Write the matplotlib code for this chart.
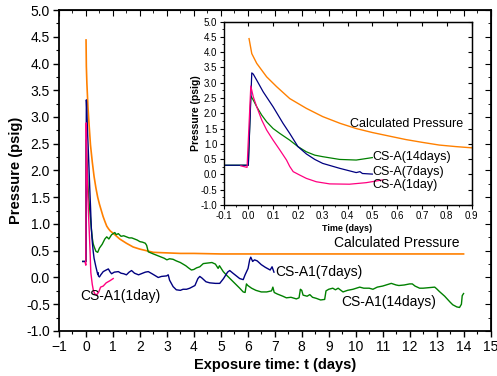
import numpy as np
import matplotlib
matplotlib.use("Agg")
import matplotlib.pyplot as plt
from matplotlib.ticker import MultipleLocator

plt.rcParams['font.family'] = ['Liberation Sans', 'DejaVu Sans']

# --- data (t in days, pressure in psig) ---
t_calc = [0.003, 0.014, 0.034, 0.074, 0.114, 0.167, 0.234, 0.3, 0.37, 0.435, 0.5, 0.57,
          0.635, 0.7, 0.77, 0.836, 0.9, 1.0, 1.25, 1.5, 1.75, 2.0, 2.5, 3.0, 3.5, 4.0,
          5.0, 6.0, 8.0, 10.0, 12.0, 14.0]
p_calc = [4.44, 3.95, 3.63, 3.19, 2.87, 2.48, 2.16, 1.89, 1.67, 1.50, 1.37, 1.25,
          1.14, 1.05, 0.96, 0.91, 0.87, 0.83, 0.72, 0.64, 0.57, 0.53, 0.47, 0.46, 0.45, 0.45,
          0.44, 0.44, 0.44, 0.44, 0.44, 0.44]

t_14d = [-0.12, -0.01, 0.0, 0.01, 0.02, 0.034, 0.054, 0.074, 0.1, 0.127, 0.167, 0.2, 0.234,
         0.268, 0.3, 0.368, 0.435, 0.46, 0.5, 0.6, 0.7, 0.77, 0.85, 0.95, 1.07, 1.12, 1.2,
         1.3, 1.4, 1.5, 1.6, 1.7, 1.8, 1.9, 2.0, 2.1, 2.2, 2.25, 2.31, 2.4, 2.5, 2.6, 2.74,
         2.9, 3.0, 3.1, 3.23, 3.35, 3.5, 3.6, 3.7, 3.8, 3.91, 4.0, 4.1, 4.22, 4.35, 4.5,
         4.67, 4.8, 4.9, 4.95, 5.0, 5.09, 5.2, 5.3, 5.46, 5.6, 5.7, 5.83, 5.9, 5.95, 6.0,
         6.14, 6.3, 6.5, 6.7, 6.88, 6.93, 6.98, 7.1, 7.3, 7.43, 7.6, 7.8, 7.9, 7.95, 8.0,
         8.05, 8.2, 8.3, 8.4, 8.54, 8.7, 8.85, 8.9, 9.0, 9.15, 9.25, 9.35, 9.53, 9.7, 9.9,
         10.15, 10.3, 10.5, 10.64, 10.8, 11.0, 11.2, 11.32, 11.5, 11.6, 11.8, 12.0, 12.1,
         12.2, 12.37, 12.5, 12.7, 12.93, 13.0, 13.1, 13.3, 13.5, 13.6, 13.75, 13.85, 13.92,
         13.95, 14.0]
p_14d = [0.30, 0.30, 0.30, 2.57, 2.43, 2.21, 1.94, 1.72, 1.50, 1.34, 1.12, 0.91, 0.74,
         0.63, 0.58, 0.49, 0.47, 0.50, 0.55, 0.62, 0.72, 0.76, 0.72, 0.80, 0.84, 0.80, 0.82,
         0.77, 0.78, 0.76, 0.74, 0.74, 0.72, 0.70, 0.67, 0.66, 0.64, 0.60, 0.48, 0.46, 0.44,
         0.42, 0.39, 0.36, 0.33, 0.35, 0.34, 0.31, 0.28, 0.25, 0.22, 0.18, 0.14, 0.15, 0.18,
         0.20, 0.26, 0.27, 0.28, 0.25, 0.17, 0.22, 0.18, 0.11, 0.05, 0.00, -0.08, -0.15,
         -0.20, -0.27, -0.28, -0.12, -0.15, -0.20, -0.24, -0.27, -0.27, -0.25, -0.18, -0.28,
         -0.31, -0.35, -0.38, -0.37, -0.40, -0.38, -0.22, -0.24, -0.33, -0.35, -0.32, -0.37,
         -0.39, -0.42, -0.41, -0.25, -0.22, -0.20, -0.23, -0.20, -0.27, -0.24, -0.22, -0.18,
         -0.20, -0.20, -0.22, -0.18, -0.16, -0.13, -0.11, -0.14, -0.15, -0.14, -0.12, -0.12,
         -0.16, -0.20, -0.20, -0.19, -0.18, -0.21, -0.26, -0.35, -0.46, -0.51, -0.55, -0.56,
         -0.50, -0.34, -0.30]

t_7d = [-0.12, 0.0, 0.014, 0.02, 0.034, 0.06, 0.1, 0.14, 0.167, 0.2, 0.234, 0.268, 0.3,
        0.368, 0.435, 0.45, 0.46, 0.5, 0.55, 0.64, 0.75, 0.83, 0.9, 0.95, 1.05, 1.2, 1.3,
        1.4, 1.5, 1.6, 1.69, 1.8, 1.95, 2.1, 2.2, 2.31, 2.45, 2.55, 2.68, 2.8, 2.99, 3.05,
        3.1, 3.23, 3.35, 3.5, 3.6, 3.73, 3.85, 4.04, 4.15, 4.22, 4.3, 4.45, 4.59, 4.8, 4.96,
        5.1, 5.25, 5.33, 5.45, 5.6, 5.7, 5.83, 5.9, 6.01, 6.07, 6.11, 6.18, 6.25, 6.35, 6.5,
        6.65, 6.83, 6.9, 6.97]
p_7d = [0.30, 0.30, 3.32, 3.28, 3.08, 2.70, 2.21, 1.67, 1.34, 0.91, 0.67, 0.49, 0.36,
        0.20, 0.06, 0.09, 0.03, 0.01, 0.05, 0.11, 0.14, 0.16, 0.10, 0.07, 0.10, 0.11, 0.08,
        0.07, 0.05, 0.10, 0.13, 0.08, 0.05, 0.08, 0.10, 0.11, 0.07, 0.04, 0.00, 0.02, 0.03,
        0.05, -0.05, -0.17, -0.23, -0.24, -0.22, -0.22, -0.20, -0.15, -0.02, 0.02, -0.01,
        -0.08, -0.10, -0.11, -0.11, -0.02, 0.10, 0.13, 0.08, 0.02, -0.02, -0.04, 0.05, 0.17,
        0.33, 0.38, 0.30, 0.33, 0.31, 0.24, 0.19, 0.14, 0.20, 0.10]

t_1d = [-0.03, -0.005, 0.01, 0.02, 0.034, 0.054, 0.074, 0.1, 0.127, 0.154, 0.167, 0.181,
        0.207, 0.234, 0.274, 0.328, 0.408, 0.475, 0.542, 0.64, 0.75, 0.89, 1.01]
p_1d = [0.28, 0.23, 2.89, 2.54, 2.21, 1.78, 1.45, 1.12, 0.80, 0.47, 0.26, 0.09,
        -0.02, -0.13, -0.24, -0.31, -0.32, -0.27, -0.18, -0.16, -0.10, -0.06, -0.02]

# end of each record shown in the inset
inset_end = {'14d': 0.5, '7d': 0.5, '1d': 0.542}

c_calc = '#FF8000'
c_14d = '#008000'
c_7d = '#000080'
c_1d = '#FF0080'

fig = plt.figure(figsize=(4.97, 3.76), dpi=100)
ax = fig.add_axes([0.1187, 0.1197, 0.8683, 0.8537])

ax.plot(t_calc, p_calc, color=c_calc, lw=1.2)
ax.plot(t_14d, p_14d, color=c_14d, lw=1.0)
ax.plot(t_7d, p_7d, color=c_7d, lw=1.0)
ax.plot(t_1d, p_1d, color=c_1d, lw=1.0)

ax.set_xlim(-1, 15)
ax.set_ylim(-1, 5)
ax.xaxis.set_major_locator(MultipleLocator(1))
ax.xaxis.set_minor_locator(MultipleLocator(0.5))
ax.yaxis.set_major_locator(MultipleLocator(0.5))
ax.yaxis.set_minor_locator(MultipleLocator(0.25))
ax.yaxis.set_major_formatter(plt.FormatStrFormatter('%.1f'))
ax.tick_params(which='major', direction='out', length=4, width=1, labelsize=10, pad=2.5)
ax.tick_params(which='minor', direction='out', length=2, width=0.8)
for s in ax.spines.values():
    s.set_linewidth(1.3)

top = ax.secondary_xaxis('top')
top.xaxis.set_major_locator(MultipleLocator(1))
top.xaxis.set_minor_locator(MultipleLocator(0.5))
top.tick_params(which='major', direction='in', length=4, labeltop=False)
top.tick_params(which='minor', direction='in', length=2)
right = ax.secondary_yaxis('right')
right.yaxis.set_major_locator(MultipleLocator(0.5))
right.yaxis.set_minor_locator(MultipleLocator(0.25))
right.tick_params(which='major', direction='in', length=4, labelright=False)
right.tick_params(which='minor', direction='in', length=2)

ax.set_xlabel('Exposure time: t (days)', fontsize=10.5, fontweight='bold', labelpad=3)
ax.set_ylabel('Pressure (psig)', fontsize=10.5, fontweight='bold', labelpad=2)

ax.text(9.2, 0.65, 'Calculated Pressure', fontsize=10, va='center', ha='left')
ax.text(7.0, 0.11, 'CS-A1(7days)', fontsize=10, va='center', ha='left')
ax.text(9.47, -0.46, 'CS-A1(14days)', fontsize=10, va='center', ha='left')
ax.text(-0.22, -0.34, 'CS-A1(1day)', fontsize=10, va='center', ha='left')

# --- inset: first day ---
ins = fig.add_axes([0.4497, 0.4548, 0.4991, 0.4880])
ins.set_facecolor('white')
t14 = np.array(t_14d); p14 = np.array(p_14d)
t7 = np.array(t_7d); p7 = np.array(p_7d)
t1 = np.array(t_1d); p1 = np.array(p_1d)
ins.plot(t_calc, p_calc, color=c_calc, lw=1.0)
m = t14 <= inset_end['14d']
ins.plot(np.r_[-0.1, t14[m][1:]], p14[m], color=c_14d, lw=0.9)
m = t7 <= inset_end['7d']
ins.plot(np.r_[-0.1, t7[m][1:]], p7[m], color=c_7d, lw=0.9)
m = t1 <= inset_end['1d']
ins.plot(t1[m], p1[m], color=c_1d, lw=0.9)

ins.set_xlim(-0.1, 0.9)
ins.set_ylim(-1, 5)
ins.xaxis.set_major_locator(MultipleLocator(0.1))
ins.xaxis.set_minor_locator(MultipleLocator(0.05))
ins.yaxis.set_major_locator(MultipleLocator(0.5))
ins.yaxis.set_minor_locator(MultipleLocator(0.25))
ins.yaxis.set_major_formatter(plt.FormatStrFormatter('%.1f'))
ins.xaxis.set_major_formatter(plt.FormatStrFormatter('%.1f'))
ins.tick_params(which='major', direction='out', length=3, width=0.8, labelsize=7, pad=1.5)
ins.tick_params(which='minor', direction='out', length=1.5, width=0.6)
for s in ins.spines.values():
    s.set_linewidth(1.0)
itop = ins.secondary_xaxis('top')
itop.xaxis.set_major_locator(MultipleLocator(0.1))
itop.tick_params(direction='in', length=3, width=0.8, labeltop=False)
iright = ins.secondary_yaxis('right')
iright.yaxis.set_major_locator(MultipleLocator(0.5))
iright.tick_params(direction='in', length=3, width=0.8, labelright=False)

ins.set_xlabel('Time (days)', fontsize=6.5, fontweight='bold', labelpad=2)
ins.set_ylabel('Pressure (psig)', fontsize=7.5, fontweight='bold', labelpad=0)

ins.text(0.408, 1.65, 'Calculated Pressure', fontsize=9, va='center', ha='left')
ins.text(0.5, 0.58, 'CS-A(14days)', fontsize=9, va='center', ha='left')
ins.text(0.5, 0.09, 'CS-A(7days)', fontsize=9, va='center', ha='left')
ins.text(0.5, -0.35, 'CS-A(1day)', fontsize=9, va='center', ha='left')

fig.savefig('out.png', dpi=100)
